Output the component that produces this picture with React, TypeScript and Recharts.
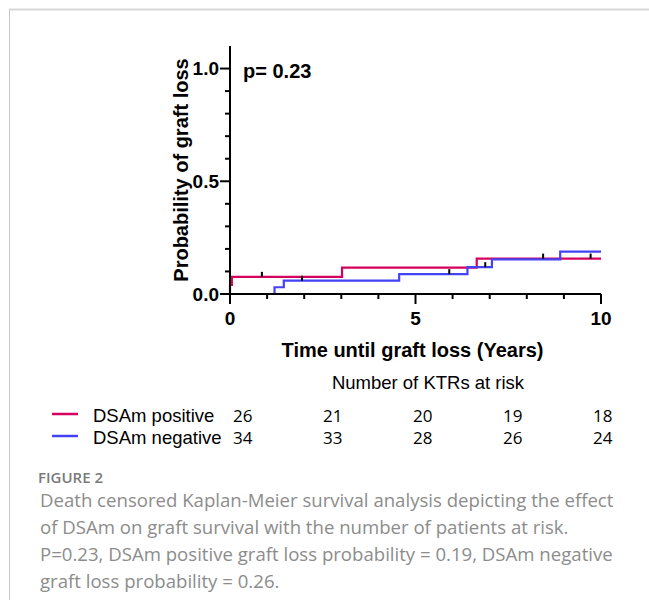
import { ComposedChart, Line, Scatter, XAxis, YAxis } from 'recharts'

// cumulative probability of graft loss (years, probability)
const positiveCurve = [
  { t: 0, p: 0 },
  { t: 0, p: 0.04 },
  { t: 0.05, p: 0.076 },
  { t: 3.02, p: 0.117 },
  { t: 6.65, p: 0.157 },
  { t: 10, p: 0.157 },
]
const negativeCurve = [
  { t: 0, p: 0 },
  { t: 1.2, p: 0.03 },
  { t: 1.45, p: 0.059 },
  { t: 4.56, p: 0.088 },
  { t: 6.4, p: 0.119 },
  { t: 7.06, p: 0.154 },
  { t: 8.9, p: 0.188 },
  { t: 10, p: 0.188 },
]
// censored patients (tick marks)
const positiveCensored = [
  { t: 0.86, p: 0.076 },
  { t: 8.44, p: 0.157 },
  { t: 9.72, p: 0.157 },
]
const negativeCensored = [
  { t: 1.94, p: 0.059 },
  { t: 5.91, p: 0.088 },
  { t: 6.88, p: 0.119 },
]

const xTicks = [0, 1, 2, 3, 4, 5, 6, 7, 8, 9, 10]
const xLabels = [0, 5, 10]
const yTicks = [0, 0.1, 0.2, 0.3, 0.4, 0.5, 0.6, 0.7, 0.8, 0.9, 1.0]
const yLabels = [0, 0.5, 1.0]

const groups = ['DSAm positive', 'DSAm negative']
const positiveAtRisk = [26, 21, 20, 19, 18]
const negativeAtRisk = [34, 33, 28, 26, 24]

const captionLines = [
  'Death censored Kaplan-Meier survival analysis depicting the effect',
  'of DSAm on graft survival with the number of patients at risk.',
  'P=0.23, DSAm positive graft loss probability = 0.19, DSAm negative',
  'graft loss probability = 0.26.',
]

const RED = '#d6005e'
const BLUE = '#4343f5'
const BOLD_FONT = '"Liberation Sans", Arial, sans-serif'

const YTick = (props: any) => {
  const { x, y, payload } = props
  const major = yLabels.some((v) => Math.abs(v - payload.value) < 1e-6)
  return (
    <g>
      <line x1={x - (major ? 10 : 5)} x2={x} y1={y} y2={y} stroke="#000" strokeWidth={2} />
      {major && (
        <text x={x - 11} y={y} dy="0.36em" textAnchor="end" fontFamily={BOLD_FONT} fontWeight="bold" fontSize={19} fill="#000">
          {payload.value.toFixed(1)}
        </text>
      )}
    </g>
  )
}

const XTick = (props: any) => {
  const { x, y, payload } = props
  const major = xLabels.includes(payload.value)
  return (
    <g>
      <line x1={x} x2={x} y1={y} y2={y + (major ? 10 : 5)} stroke="#000" strokeWidth={2} />
      {major && (
        <text x={x} y={y + 31} textAnchor="middle" fontFamily={BOLD_FONT} fontWeight="bold" fontSize={19} fill="#000">
          {payload.value}
        </text>
      )}
    </g>
  )
}

const CensorMark = (props: any) => {
  const { cx, cy } = props
  return <line x1={cx} x2={cx} y1={cy} y2={cy - 5} stroke="#000" strokeWidth={2} />
}

export default function App() {
  return (
    <div style={{ position: 'absolute', left: 0, top: 0, width: 649, height: 606, background: '#fff' }}>
      <ComposedChart width={649} height={340} margin={{ top: 46, right: 48, left: 170, bottom: 16 }}>
        <XAxis
          dataKey="t"
          type="number"
          domain={[0, 10]}
          ticks={xTicks}
          interval={0}
          height={30}
          tickSize={0}
          tickMargin={0}
          tickLine={false}
          axisLine={{ stroke: '#000', strokeWidth: 2 }}
          tick={<XTick />}
        />
        <YAxis
          type="number"
          domain={[0, 1.1]}
          ticks={yTicks}
          interval={0}
          width={60}
          tickSize={0}
          tickMargin={0}
          tickLine={false}
          axisLine={{ stroke: '#000', strokeWidth: 2 }}
          tick={<YTick />}
        />
        <Line data={positiveCurve} dataKey="p" type="stepAfter" stroke={RED} strokeWidth={2.2} dot={false} isAnimationActive={false} />
        <Line data={negativeCurve} dataKey="p" type="stepAfter" stroke={BLUE} strokeWidth={2.2} dot={false} isAnimationActive={false} />
        <Scatter data={positiveCensored} dataKey="p" shape={<CensorMark />} isAnimationActive={false} />
        <Scatter data={negativeCensored} dataKey="p" shape={<CensorMark />} isAnimationActive={false} />
      </ComposedChart>

      <svg width={649} height={606} style={{ position: 'absolute', left: 0, top: 0, pointerEvents: 'none' }}>
        {/* frame */}
        <line x1={9} x2={649} y1={9.5} y2={9.5} stroke="#d8d8d8" strokeWidth={2} />
        <line x1={9.5} x2={9.5} y1={9} y2={600} stroke="#c8c8c8" strokeWidth={1} />

        <text x={243} y={77.5} fontFamily={BOLD_FONT} fontWeight="bold" fontSize={20} fill="#000">p= 0.23</text>
        <text
          x={188}
          y={170}
          transform="rotate(-90 188 170)"
          textAnchor="middle"
          fontFamily={BOLD_FONT}
          fontWeight="bold"
          fontSize={20}
          fill="#000"
        >
          Probability of graft loss
        </text>
        <text x={412.5} y={357} textAnchor="middle" fontFamily={BOLD_FONT} fontWeight="bold" fontSize={20} fill="#000">
          Time until graft loss (Years)
        </text>

        {/* number at risk table */}
        <text x={428} y={389} textAnchor="middle" fontFamily={BOLD_FONT} fontSize={18.5} fill="#000">
          Number of KTRs at risk
        </text>
        {[positiveAtRisk, negativeAtRisk].map((row, r) => {
          const y = 421.5 + r * 22
          return (
            <g key={r}>
              <line x1={52} x2={78} y1={y - 7.5} y2={y - 7.5} stroke={r === 0 ? RED : BLUE} strokeWidth={2.5} />
              <text x={93} y={y} fontFamily={BOLD_FONT} fontSize={18.5} fill="#000">{groups[r]}</text>
              {row.map((n, i) => (
                <text key={i} x={233 + i * 90} y={y} fontFamily='"Open Sans", sans-serif' fontSize={17} fill="#000">
                  {n}
                </text>
              ))}
            </g>
          )
        })}

        {/* caption */}
        <text x={38} y={483} fontFamily='"Open Sans", sans-serif' fontWeight={600} fontSize={15} fill="#7a7a7a">FIGURE 2</text>
        {captionLines.map((line, i) => (
          <text key={i} x={40} y={507 + i * 27} fontFamily='"Open Sans", sans-serif' fontSize={18.6} fill="#8c8c8c">
            {line}
          </text>
        ))}
      </svg>
    </div>
  )
}
